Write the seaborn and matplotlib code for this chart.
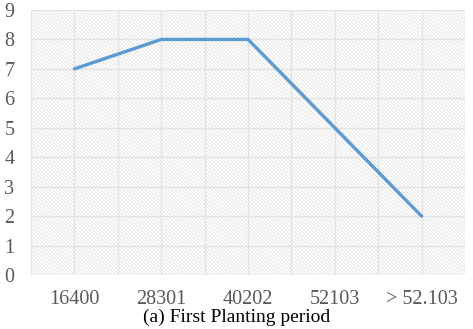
import matplotlib
matplotlib.use("Agg")
import matplotlib.pyplot as plt
import seaborn as sns
from matplotlib.patches import Rectangle
from matplotlib.ticker import MultipleLocator

# Data
categories = ['16400', '28301', '40202', '52103', '> 52.103']
values = [7, 8, 8, 5, 2]
caption = '(a) First Planting period'

sns.set_style('white')
plt.rcParams['font.family'] = ['Liberation Serif', 'DejaVu Serif']
plt.rcParams['hatch.color'] = '#dcdcdc'
plt.rcParams['hatch.linewidth'] = 0.5

fig = plt.figure(figsize=(4.73, 3.29), dpi=100)
ax = fig.add_axes([31 / 473, 1 - 275 / 329, 434 / 473, 265 / 329])

# hatched plot background
ax.add_patch(Rectangle((0, 0), 1, 1, transform=ax.transAxes, facecolor='white',
                       edgecolor='#dcdcdc', hatch='\\' * 9, linewidth=0, zorder=0))

sns.lineplot(x=categories, y=values, sort=False, color='#5b9bd5', linewidth=2.4, ax=ax, zorder=3)

ax.set_xlim(-0.5, len(categories) - 0.5)
ax.set_ylim(0, 9)
ax.yaxis.set_major_locator(MultipleLocator(1))
ax.xaxis.set_minor_locator(MultipleLocator(0.5))
ax.grid(True, which='both', color='#e3e3e3', linewidth=1.0, zorder=1)
ax.set_axisbelow(True)
for s in ax.spines.values():
    s.set_visible(False)

ax.tick_params(axis='both', which='both', length=0, labelsize=14.5, labelcolor='#595959')
ax.tick_params(axis='x', pad=11)
ax.tick_params(axis='y', pad=12)
ax.set_xlabel('')
ax.set_ylabel('')

fig.text(0.5, 1 - 317 / 329, caption, ha='center', va='center', fontsize=14, color='black')

fig.savefig('out.png', dpi=100)
